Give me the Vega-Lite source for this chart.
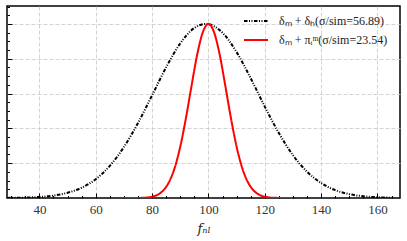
{
  "$schema": "https://vega.github.io/schema/vega-lite/v6.json",
  "width": 393,
  "height": 192,
  "autosize": {"type": "none"},
  "padding": {"left": 7, "top": 6, "right": 7, "bottom": 43},
  "background": "white",
  "config": {
    "view": {"stroke": "black", "strokeWidth": 1.5},
    "font": "Liberation Serif"
  },
  "datasets": {
    "curves": [
      {"f": 28.5, "p": 0.0007, "s": "δₘ + δₕ(σ/sim=56.89)"},
      {"f": 30, "p": 0.001, "s": "δₘ + δₕ(σ/sim=56.89)"},
      {"f": 35, "p": 0.0025, "s": "δₘ + δₕ(σ/sim=56.89)"},
      {"f": 40, "p": 0.0062, "s": "δₘ + δₕ(σ/sim=56.89)"},
      {"f": 45, "p": 0.0141, "s": "δₘ + δₕ(σ/sim=56.89)"},
      {"f": 50, "p": 0.030, "s": "δₘ + δₕ(σ/sim=56.89)"},
      {"f": 55, "p": 0.059, "s": "δₘ + δₕ(σ/sim=56.89)"},
      {"f": 60, "p": 0.108, "s": "δₘ + δₕ(σ/sim=56.89)"},
      {"f": 65, "p": 0.185, "s": "δₘ + δₕ(σ/sim=56.89)"},
      {"f": 70, "p": 0.293, "s": "δₘ + δₕ(σ/sim=56.89)"},
      {"f": 75, "p": 0.431, "s": "δₘ + δₕ(σ/sim=56.89)"},
      {"f": 80, "p": 0.590, "s": "δₘ + δₕ(σ/sim=56.89)"},
      {"f": 85, "p": 0.751, "s": "δₘ + δₕ(σ/sim=56.89)"},
      {"f": 90, "p": 0.888, "s": "δₘ + δₕ(σ/sim=56.89)"},
      {"f": 95, "p": 0.977, "s": "δₘ + δₕ(σ/sim=56.89)"},
      {"f": 99, "p": 1.0, "s": "δₘ + δₕ(σ/sim=56.89)"},
      {"f": 105, "p": 0.949, "s": "δₘ + δₕ(σ/sim=56.89)"},
      {"f": 110, "p": 0.838, "s": "δₘ + δₕ(σ/sim=56.89)"},
      {"f": 115, "p": 0.688, "s": "δₘ + δₕ(σ/sim=56.89)"},
      {"f": 120, "p": 0.525, "s": "δₘ + δₕ(σ/sim=56.89)"},
      {"f": 125, "p": 0.373, "s": "δₘ + δₕ(σ/sim=56.89)"},
      {"f": 130, "p": 0.246, "s": "δₘ + δₕ(σ/sim=56.89)"},
      {"f": 135, "p": 0.151, "s": "δₘ + δₕ(σ/sim=56.89)"},
      {"f": 140, "p": 0.086, "s": "δₘ + δₕ(σ/sim=56.89)"},
      {"f": 145, "p": 0.045, "s": "δₘ + δₕ(σ/sim=56.89)"},
      {"f": 150, "p": 0.022, "s": "δₘ + δₕ(σ/sim=56.89)"},
      {"f": 155, "p": 0.010, "s": "δₘ + δₕ(σ/sim=56.89)"},
      {"f": 160, "p": 0.0044, "s": "δₘ + δₕ(σ/sim=56.89)"},
      {"f": 165, "p": 0.0017, "s": "δₘ + δₕ(σ/sim=56.89)"},
      {"f": 70, "p": 0.0, "s": "δₘ + πᵢᵐ(σ/sim=23.54)"},
      {"f": 75, "p": 0.0005, "s": "δₘ + πᵢᵐ(σ/sim=23.54)"},
      {"f": 78, "p": 0.0027, "s": "δₘ + πᵢᵐ(σ/sim=23.54)"},
      {"f": 80, "p": 0.0076, "s": "δₘ + πᵢᵐ(σ/sim=23.54)"},
      {"f": 82, "p": 0.0192, "s": "δₘ + πᵢᵐ(σ/sim=23.54)"},
      {"f": 84, "p": 0.0439, "s": "δₘ + πᵢᵐ(σ/sim=23.54)"},
      {"f": 86, "p": 0.0914, "s": "δₘ + πᵢᵐ(σ/sim=23.54)"},
      {"f": 88, "p": 0.172, "s": "δₘ + πᵢᵐ(σ/sim=23.54)"},
      {"f": 90, "p": 0.295, "s": "δₘ + πᵢᵐ(σ/sim=23.54)"},
      {"f": 92, "p": 0.458, "s": "δₘ + πᵢᵐ(σ/sim=23.54)"},
      {"f": 94, "p": 0.644, "s": "δₘ + πᵢᵐ(σ/sim=23.54)"},
      {"f": 96, "p": 0.823, "s": "δₘ + πᵢᵐ(σ/sim=23.54)"},
      {"f": 98, "p": 0.952, "s": "δₘ + πᵢᵐ(σ/sim=23.54)"},
      {"f": 100, "p": 1.0, "s": "δₘ + πᵢᵐ(σ/sim=23.54)"},
      {"f": 102, "p": 0.952, "s": "δₘ + πᵢᵐ(σ/sim=23.54)"},
      {"f": 104, "p": 0.823, "s": "δₘ + πᵢᵐ(σ/sim=23.54)"},
      {"f": 106, "p": 0.644, "s": "δₘ + πᵢᵐ(σ/sim=23.54)"},
      {"f": 108, "p": 0.458, "s": "δₘ + πᵢᵐ(σ/sim=23.54)"},
      {"f": 110, "p": 0.295, "s": "δₘ + πᵢᵐ(σ/sim=23.54)"},
      {"f": 112, "p": 0.172, "s": "δₘ + πᵢᵐ(σ/sim=23.54)"},
      {"f": 114, "p": 0.0914, "s": "δₘ + πᵢᵐ(σ/sim=23.54)"},
      {"f": 116, "p": 0.0439, "s": "δₘ + πᵢᵐ(σ/sim=23.54)"},
      {"f": 118, "p": 0.0192, "s": "δₘ + πᵢᵐ(σ/sim=23.54)"},
      {"f": 120, "p": 0.0076, "s": "δₘ + πᵢᵐ(σ/sim=23.54)"},
      {"f": 122, "p": 0.0027, "s": "δₘ + πᵢᵐ(σ/sim=23.54)"},
      {"f": 125, "p": 0.0005, "s": "δₘ + πᵢᵐ(σ/sim=23.54)"},
      {"f": 130, "p": 0.0, "s": "δₘ + πᵢᵐ(σ/sim=23.54)"}
    ]
  },
  "data": {"name": "curves"},
  "mark": {"type": "line", "interpolate": "monotone", "strokeWidth": 2, "clip": true},
  "encoding": {
    "x": {
      "field": "f",
      "type": "quantitative",
      "scale": {"domain": [28.5, 168], "nice": false, "zero": false},
      "axis": {
        "title": "fₙₗ",
        "titleFont": "DejaVu Serif",
        "titleFontStyle": "italic",
        "titleFontWeight": "normal",
        "titleFontSize": 13,
        "titleColor": "#222",
        "titlePadding": 4,
        "values": [30, 35, 40, 45, 50, 55, 60, 65, 70, 75, 80, 85, 90, 95, 100, 105, 110, 115, 120, 125, 130, 135, 140, 145, 150, 155, 160, 165],
        "labelExpr": "datum.value % 20 === 0 ? datum.label : ''",
        "labelOverlap": false,
        "labelFlush": false,
        "labelFont": "Liberation Serif",
        "labelFontSize": 13,
        "labelColor": "#333",
        "labelPadding": 10,
        "domain": false,
        "tickColor": "black",
        "tickWidth": 1,
        "tickSize": {"condition": {"test": "datum.value % 20 === 0", "value": -5}, "value": -2.5},
        "grid": true,
        "gridColor": "#c8c8c8",
        "gridDash": [4, 2],
        "gridWidth": 0.8,
        "gridOpacity": {"condition": {"test": "datum.value % 20 === 0", "value": 1}, "value": 0}
      }
    },
    "y": {
      "field": "p",
      "type": "quantitative",
      "scale": {"domain": [0, 1.103], "nice": false},
      "axis": {
        "title": null,
        "labels": false,
        "domain": false,
        "values": [0.05, 0.1, 0.15, 0.2, 0.25, 0.3, 0.35, 0.4, 0.45, 0.5, 0.55, 0.6, 0.65, 0.7, 0.75, 0.8, 0.85, 0.9, 0.95, 1.0, 1.05, 1.1],
        "tickColor": "black",
        "tickWidth": 1,
        "tickSize": {"condition": {"test": "abs(datum.value*5 - round(datum.value*5)) < 0.001", "value": -5}, "value": -2.5},
        "grid": true,
        "gridColor": "#c8c8c8",
        "gridDash": [4, 2],
        "gridWidth": 0.8,
        "gridOpacity": {"condition": {"test": "abs(datum.value*5 - round(datum.value*5)) < 0.001", "value": 1}, "value": 0}
      }
    },
    "color": {
      "field": "s",
      "type": "nominal",
      "scale": {"domain": ["δₘ + δₕ(σ/sim=56.89)", "δₘ + πᵢᵐ(σ/sim=23.54)"], "range": ["black", "#ff0000"]},
      "legend": {
        "title": null,
        "orient": "none",
        "legendX": 236,
        "legendY": 2,
        "symbolType": "stroke",
        "symbolSize": 576,
        "symbolStrokeWidth": 2,
        "labelFont": "Liberation Serif",
        "labelFontSize": 12,
        "labelColor": "#222",
        "labelOffset": 10,
        "rowPadding": -4,
        "labelLimit": 300
      }
    },
    "strokeDash": {
      "field": "s",
      "type": "nominal",
      "scale": {"domain": ["δₘ + δₕ(σ/sim=56.89)", "δₘ + πᵢᵐ(σ/sim=23.54)"], "range": [[3.5, 1.5, 1, 1.5, 1, 1.5], [1, 0]]},
      "legend": null
    }
  }
}
